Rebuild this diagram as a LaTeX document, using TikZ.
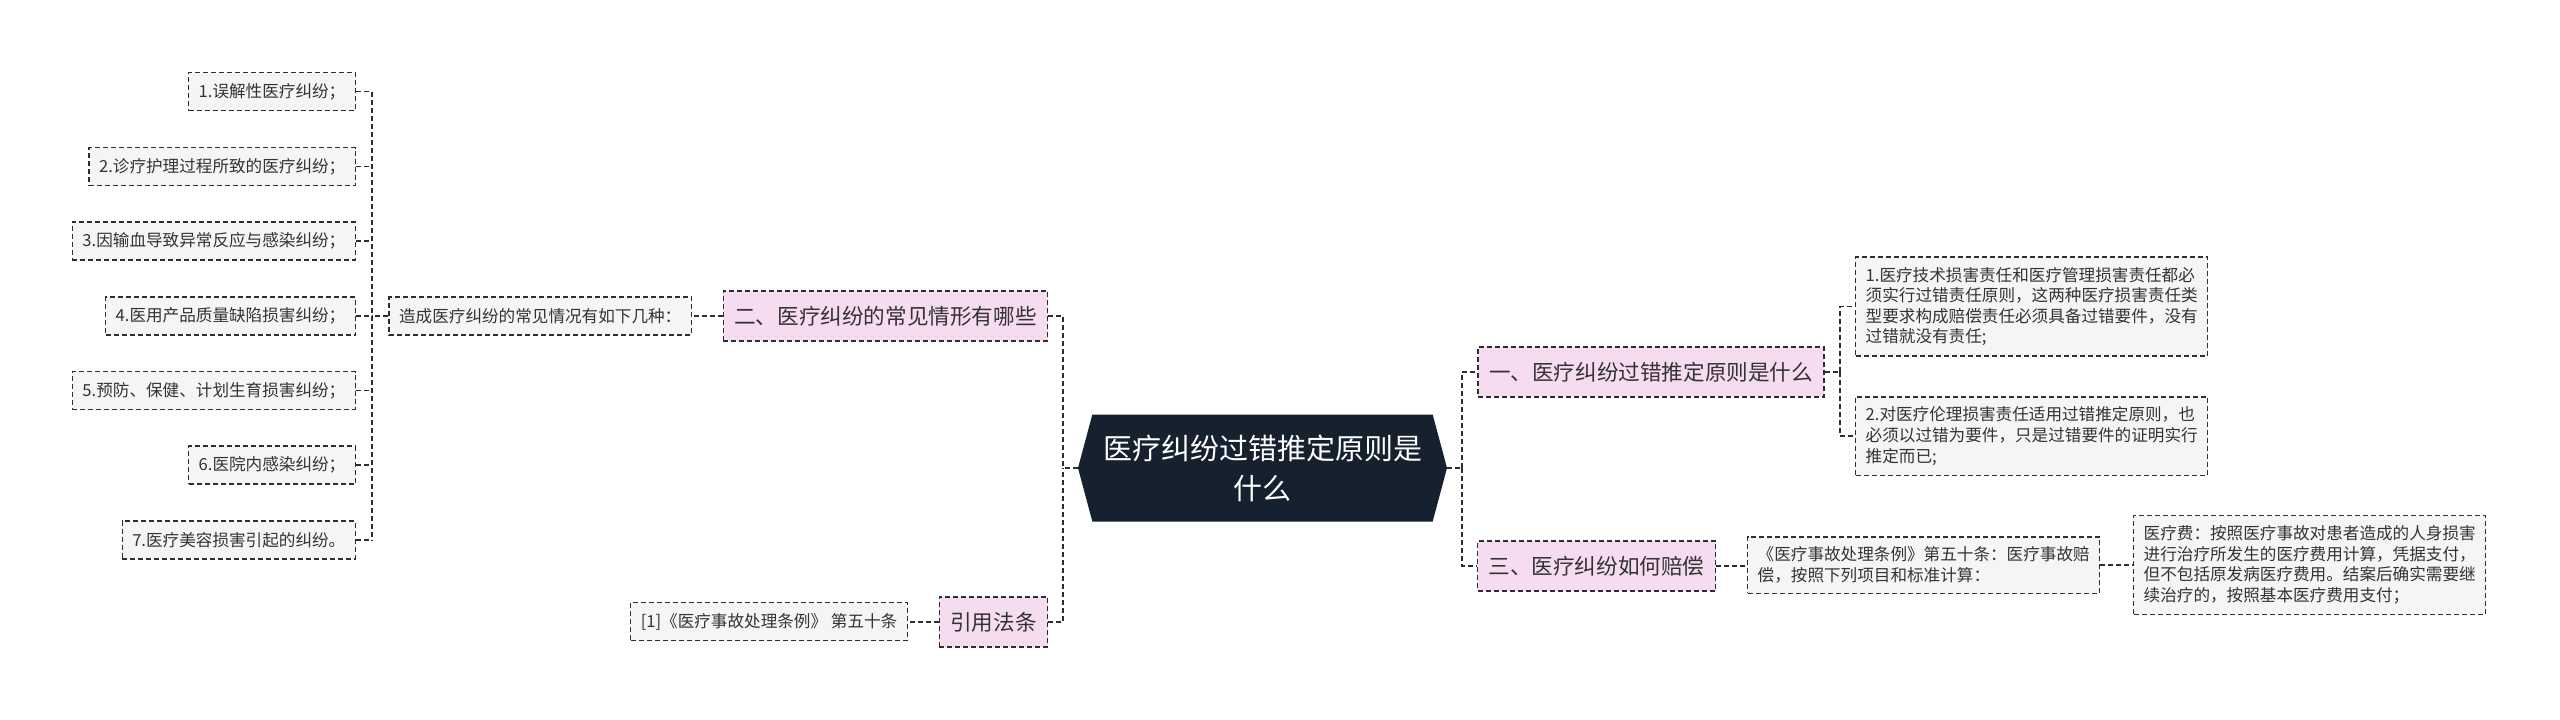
\documentclass[tikz,border=0pt]{standalone}
\usepackage{fontspec}
\setmainfont{Noto Sans CJK SC}
\usetikzlibrary{shapes.symbols}
\definecolor{linegray}{HTML}{2E2E2E}
\definecolor{textgray}{HTML}{333333}
\definecolor{leafgray}{HTML}{F5F5F5}
\definecolor{topicpink}{HTML}{F6DCF0}
\definecolor{rootnavy}{HTML}{15212F}
\begin{document}
\begin{tikzpicture}[
  x=0.5pt, y=-0.5pt,
  every node/.style={text=textgray},
  link/.style={draw=linegray, line width=0.7pt, dash pattern=on 2.5pt off 1.5pt},
  topic/.style={link, fill=topicpink, font=\fontsize{10.8pt}{13pt}\selectfont, inner xsep=5.5pt, minimum height=25pt},
  leaf/.style={link, fill=leafgray, font=\fontsize{8.3pt}{10.3pt}\selectfont, inner xsep=5pt, inner ysep=5pt, minimum height=19pt, align=left},
  root/.style={signal, signal to=west and east, signal pointer angle=150, fill=rootnavy, text=white,
    font=\fontsize{14.5pt}{20pt}\selectfont, align=center, minimum width=184.5pt, minimum height=53.5pt}
]
\useasboundingbox (0,0) rectangle (2560,719);

\node[root] (root) at (1262.5,468) {医疗纠纷过错推定原则是\\什么};

\node[topic] (t1) at (1651,372) {一、医疗纠纷过错推定原则是什么};
\node[topic] (t2) at (885.5,316) {二、医疗纠纷的常见情形有哪些};
\node[topic] (t3) at (1596.5,566) {三、医疗纠纷如何赔偿};
\node[topic] (t4) at (993.5,622) {引用法条};

\node[leaf, anchor=west] (r1) at (1855,306.5) {1.医疗技术损害责任和医疗管理损害责任都必\\须实行过错责任原则，这两种医疗损害责任类\\型要求构成赔偿责任必须具备过错要件，没有\\过错就没有责任;};
\node[leaf, anchor=west] (r2) at (1855,436) {2.对医疗伦理损害责任适用过错推定原则，也\\必须以过错为要件，只是过错要件的证明实行\\推定而已;};
\node[leaf, anchor=west] (q1) at (1747,565) {《医疗事故处理条例》第五十条：医疗事故赔\\偿，按照下列项目和标准计算：};
\node[leaf, anchor=west] (q2) at (2133,565) {医疗费：按照医疗事故对患者造成的人身损害\\进行治疗所发生的医疗费用计算，凭据支付，\\但不包括原发病医疗费用。结案后确实需要继\\续治疗的，按照基本医疗费用支付；};

\node[leaf, anchor=east] (m1) at (692,316) {造成医疗纠纷的常见情况有如下几种：};
\node[leaf, anchor=east] (l1) at (356,91.5) {1.误解性医疗纠纷；};
\node[leaf, anchor=east] (l2) at (356,166.5) {2.诊疗护理过程所致的医疗纠纷；};
\node[leaf, anchor=east] (l3) at (356,241) {3.因输血导致异常反应与感染纠纷；};
\node[leaf, anchor=east] (l4) at (356,316) {4.医用产品质量缺陷损害纠纷；};
\node[leaf, anchor=east] (l5) at (356,390.5) {5.预防、保健、计划生育损害纠纷；};
\node[leaf, anchor=east] (l6) at (356,465) {6.医院内感染纠纷；};
\node[leaf, anchor=east] (l7) at (356,540) {7.医疗美容损害引起的纠纷。};
\node[leaf, anchor=east] (c1) at (908,621.5) {[1]《医疗事故处理条例》 第五十条};

\coordinate (jl) at (1063,468);
\coordinate (jr) at (1462,468);
\coordinate (jb) at (1840,372);
\coordinate (jm) at (372,316);

\draw[link] (root.west) -- (jl);
\draw[link] (t2.east) -| (jl);
\draw[link] (t4.east) -| (jl);
\draw[link] (root.east) -- (jr);
\draw[link] (jr) |- (t1.west);
\draw[link] (jr) |- (t3.west);
\draw[link] (t1.east) -- (jb);
\draw[link] (jb) |- (r1.west);
\draw[link] (jb) |- (r2.west);
\draw[link] (t3.east) -- (q1.west |- t3.east);
\draw[link] (q1.east) -- (q2.west);
\draw[link] (t2.west) -- (m1.east);
\draw[link] (m1.west) -- (jm);
\draw[link] (l1.east -| jm) -- (l7.east -| jm);
\foreach \i in {1,...,7}
  \draw[link] (l\i.east) -- (l\i.east -| jm);
\draw[link] (t4.west) -- (c1.east |- t4.west);
\end{tikzpicture}
\end{document}
